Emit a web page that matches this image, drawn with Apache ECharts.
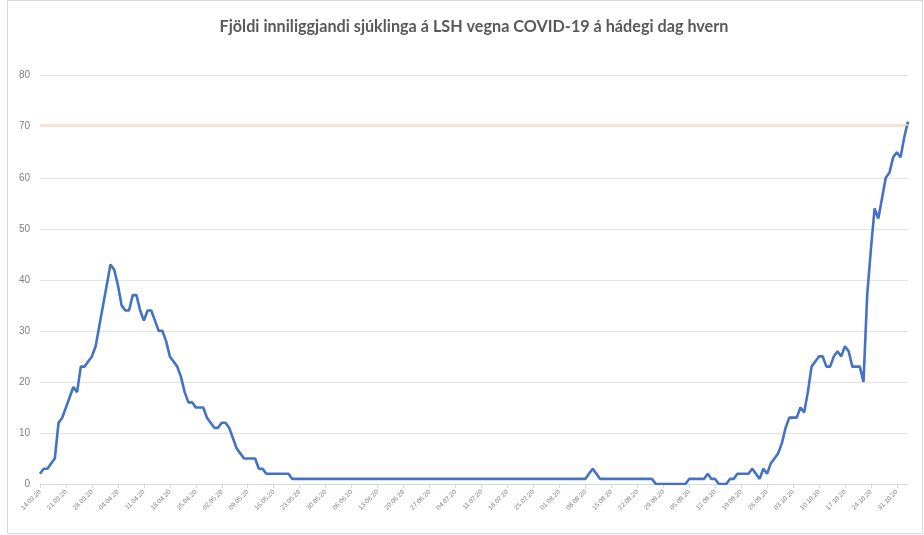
<!DOCTYPE html>
<html>
<head>
<meta charset="utf-8">
<script src="https://cdn.jsdelivr.net/npm/echarts@6/dist/echarts.min.js"></script>
<style>
html,body{margin:0;padding:0;background:#fff;}
#c{width:924px;height:535px;}
</style>
</head>
<body>
<div id="c"></div>
<script>
var titleText = 'Fjöldi inniliggjandi sjúklinga á LSH vegna COVID-19 á hádegi dag hvern';
var startDate = [2020, 3, 14];
var yTicks = [0, 10, 20, 30, 40, 50, 60, 70, 80];
var referenceLevel = 70.4;
var patients = [
  2,3,3,4,5,12,13,15,17,19,
  18,23,23,24,25,27,31,35,39,43,
  42,39,35,34,34,37,37,34,32,34,
  34,32,30,30,28,25,24,23,21,18,
  16,16,15,15,15,13,12,11,11,12,
  12,11,9,7,6,5,5,5,5,3,
  3,2,2,2,2,2,2,2,1,1,
  1,1,1,1,1,1,1,1,1,1,
  1,1,1,1,1,1,1,1,1,1,
  1,1,1,1,1,1,1,1,1,1,
  1,1,1,1,1,1,1,1,1,1,
  1,1,1,1,1,1,1,1,1,1,
  1,1,1,1,1,1,1,1,1,1,
  1,1,1,1,1,1,1,1,1,1,
  1,1,1,1,1,1,1,1,2,3,
  2,1,1,1,1,1,1,1,1,1,
  1,1,1,1,1,1,0,0,0,0,
  0,0,0,0,0,1,1,1,1,1,
  2,1,1,0,0,0,1,1,2,2,
  2,2,3,2,1,3,2,4,5,6,
  8,11,13,13,13,15,14,18,23,24,
  25,25,23,23,25,26,25,27,26,23,
  23,23,20,37,46,54,52,56,60,61,
  64,65,64,68,71
];
// category labels: one per day, dd.mm.yy
var categories = [];
(function(){
  var d = new Date(Date.UTC(startDate[0], startDate[1]-1, startDate[2]));
  for (var i = 0; i < patients.length; i++) {
    var dd = ('0' + d.getUTCDate()).slice(-2);
    var mm = ('0' + (d.getUTCMonth()+1)).slice(-2);
    var yy = String(d.getUTCFullYear()).slice(-2);
    categories.push(dd + '.' + mm + '.' + yy);
    d.setUTCDate(d.getUTCDate() + 1);
  }
})();

var chart = echarts.init(document.getElementById('c'), null, {renderer: 'canvas'});
chart.setOption({
  animation: false,
  backgroundColor: '#ffffff',
  title: {
    text: titleText,
    left: 469,
    textAlign: 'center',
    top: 14,
    textStyle: {fontFamily: 'Lato', fontWeight: 'bold', fontSize: 16.2, color: '#595959'}
  },
  graphic: [{
    type: 'rect',
    shape: {x: 7.5, y: 0.5, width: 915, height: 533},
    style: {fill: 'none', stroke: '#d9d9d9', lineWidth: 1},
    silent: true
  }],
  grid: {left: 40, right: 16, top: 75.7, bottom: 51, containLabel: false},
  xAxis: {
    type: 'category',
    data: categories,
    boundaryGap: false,
    axisLine: {lineStyle: {color: '#d9d9d9', width: 1}},
    axisTick: {show: true, interval: 6, length: 4, lineStyle: {color: '#d9d9d9'}},
    axisLabel: {interval: 6, rotate: 45, fontSize: 6.5, color: '#7f7f7f', fontFamily: 'Liberation Sans', margin: 7},
    splitLine: {show: false}
  },
  yAxis: {
    type: 'value',
    min: yTicks[0],
    max: yTicks[yTicks.length-1],
    interval: 10,
    axisLine: {show: false},
    axisTick: {show: false},
    axisLabel: {fontSize: 10, color: '#7f7f7f', fontFamily: 'Liberation Sans', margin: 10},
    splitLine: {lineStyle: {color: '#e3e3e3', width: 1}}
  },
  series: [{
    type: 'line',
    data: patients,
    showSymbol: false,
    symbol: 'none',
    smooth: false,
    lineStyle: {color: '#4472c4', width: 2.6},
    markLine: {
      silent: true,
      symbol: 'none',
      label: {show: false},
      lineStyle: {color: '#fad6be', width: 1.6, type: 'solid'},
      data: [{yAxis: referenceLevel}]
    }
  }]
});
</script>
</body>
</html>
